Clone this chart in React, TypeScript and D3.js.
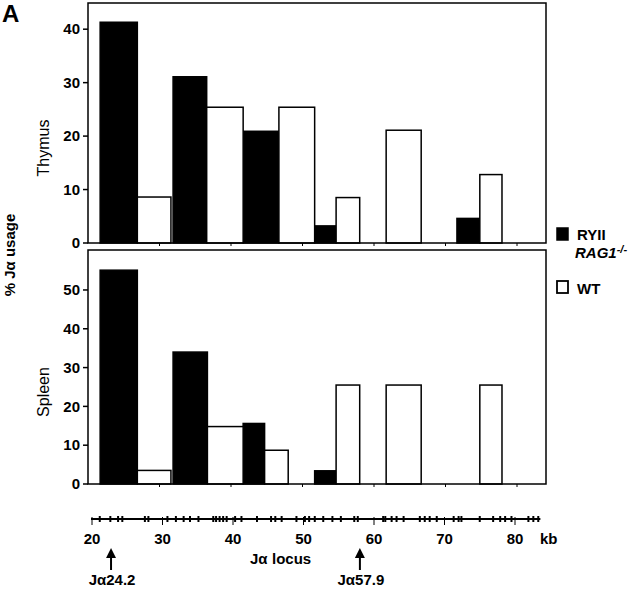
import React from "react";
import * as d3 from "d3";

// Each bar covers a stretch of the Jα locus (kb): [start, end]
const thymusRYIIkb = [[21.7, 26.9], [31.9, 36.6], [41.7, 46.7], [51.7, 54.7], [61.7, 61.7], [71.6, 74.8]];
const thymusWTkb = [[26.9, 31.6], [36.6, 41.7], [46.7, 51.7], [54.7, 58.0], [61.7, 66.6], [74.8, 77.9]];
const spleenRYIIkb = [[21.7, 26.9], [31.9, 36.7], [41.7, 44.7], [51.7, 54.7], [61.7, 61.7], [71.6, 71.6]];
const spleenWTkb = [[26.9, 31.6], [36.7, 41.7], [44.7, 48.0], [54.7, 58.0], [61.7, 66.6], [74.8, 77.9]];
const thymusRYII = [41.3, 31.1, 20.9, 3.2, 0, 4.6];
const thymusWT = [8.6, 25.4, 25.4, 8.5, 21.1, 12.8];
const spleenRYII = [55.1, 34.0, 15.6, 3.4, 0, 0];
const spleenWT = [3.5, 14.8, 8.7, 25.5, 25.5, 25.5];
const thymusTicks = [0, 10, 20, 30, 40];
const spleenTicks = [0, 10, 20, 30, 40, 50];
const locusTicks = [20, 30, 40, 50, 60, 70, 80];
const geneKb = [
  21.1, 22.6, 23.7, 24.3, 27.5, 28.0, 30.7, 31.9, 33.0, 33.9, 35.1, 37.2, 37.6, 38.1, 38.6, 39.1,
  40.3, 41.2, 43.4, 45.4, 46.0, 46.9, 49.0, 50.2, 50.8, 51.6, 52.8, 54.1, 55.3, 57.2, 57.7,
  61.3, 61.6, 62.5, 63.2, 64.2, 66.5, 67.2, 67.9, 68.9, 71.3, 72.0, 72.4, 75.0, 76.9, 77.9,
  78.6, 79.5, 81.9, 82.6, 83.3,
];
const arrowKb = [22.7, 58.0];
const arrowLabels = ["24.2", "57.9"];

const FONT = "'Liberation Sans', Arial, sans-serif";

function Panel({ top, bottom, maxY, ticks, ryii, wt, ryiiKb, wtKb, label }: any) {
  const left = 88;
  const right = 546;
  const y = d3.scaleLinear().domain([0, maxY]).range([bottom, top]);
  const xk = d3.scaleLinear().domain([20, 80]).range([88, 517]);
  const bar = (kb: number[], v: number, fill: string, key: string) =>
    kb[1] > kb[0] ? (
      <rect
        key={key}
        x={xk(kb[0])}
        y={y(v)}
        width={xk(kb[1]) - xk(kb[0])}
        height={bottom - y(v)}
        fill={fill}
        stroke="#000"
        strokeWidth={1.5}
      />
    ) : null;
  return (
    <g>
      {ryii.map((v: number, i: number) => bar(ryiiKb[i], v, "#000", "r" + i))}
      {wt.map((v: number, i: number) => bar(wtKb[i], v, "#fff", "w" + i))}
      <rect x={left} y={top} width={right - left} height={bottom - top} fill="none" stroke="#000" strokeWidth={1.5} />
      {ticks.map((t: number) => (
        <g key={t}>
          <line x1={left - 5} x2={left} y1={y(t)} y2={y(t)} stroke="#000" strokeWidth={1.5} />
          <text x={left - 8} y={y(t)} dy="0.35em" textAnchor="end" fontFamily={FONT} fontWeight="bold" fontSize={15}>
            {t}
          </text>
        </g>
      ))}
      {locusTicks.slice(1).map((t) => (
        <line key={t} x1={xk(t)} x2={xk(t)} y1={bottom} y2={bottom + 3} stroke="#000" strokeWidth={1} />
      ))}
      <text
        transform={`translate(49,${(top + bottom) / 2 + 25}) rotate(-90)`}
        textAnchor="middle"
        fontFamily={FONT}
        fontSize={16}
      >
        {label}
      </text>
    </g>
  );
}

export default function App() {
  const kx = d3.scaleLinear().domain([20, 80]).range([92, 515]);
  const axisY = 519;
  return (
    <svg width={640} height={589} style={{ position: "absolute", left: 0, top: 0, background: "#fff" }}>
      <rect width={640} height={589} fill="#fff" />
      <text x={2} y={22} fontFamily={FONT} fontWeight="bold" fontSize={24}>A</text>
      <Panel top={3} bottom={243} maxY={44.9} ticks={thymusTicks} ryii={thymusRYII} wt={thymusWT}
        ryiiKb={thymusRYIIkb} wtKb={thymusWTkb} label="Thymus" />
      <Panel top={250} bottom={484} maxY={60.3} ticks={spleenTicks} ryii={spleenRYII} wt={spleenWT}
        ryiiKb={spleenRYIIkb} wtKb={spleenWTkb} label="Spleen" />
      <text
        transform="translate(15,255) rotate(-90)"
        textAnchor="middle"
        fontFamily={FONT}
        fontWeight="bold"
        fontSize={15}
      >
        % Jα usage
      </text>
      {/* legend */}
      <rect x={557} y={228} width={11} height={12} fill="#000" stroke="#000" strokeWidth={1.5} />
      <text x={577} y={240} fontFamily={FONT} fontWeight="bold" fontSize={15}>RYII</text>
      <text x={575} y={258} fontFamily={FONT} fontWeight="bold" fontStyle="italic" fontSize={15}>
        RAG1<tspan dy={-5} fontSize={11}>-/-</tspan>
      </text>
      <rect x={557} y={281} width={11} height={12} fill="#fff" stroke="#000" strokeWidth={1.8} />
      <text x={577} y={294} fontFamily={FONT} fontWeight="bold" fontSize={15}>WT</text>
      {/* locus axis */}
      <line x1={kx(20) - 1} x2={kx(83.6)} y1={axisY} y2={axisY} stroke="#000" strokeWidth={2} />
      {geneKb.map((k, i) => (
        <line key={i} x1={kx(k)} x2={kx(k)} y1={axisY - 3} y2={axisY + 3} stroke="#000" strokeWidth={2} />
      ))}
      {locusTicks.map((t) => (
        <g key={t}>
          <line x1={kx(t)} x2={kx(t)} y1={axisY - 2} y2={axisY + 6} stroke="#000" strokeWidth={1} />
          <text x={kx(t)} y={544} textAnchor="middle" fontFamily={FONT} fontWeight="bold" fontSize={15}>
            {t}
          </text>
        </g>
      ))}
      <text x={540} y={544} fontFamily={FONT} fontWeight="bold" fontSize={15}>kb</text>
      <text x={250} y={564} fontFamily={FONT} fontWeight="bold" fontSize={15}>
        <tspan>Jα</tspan>
        <tspan x={272}>locus</tspan>
      </text>
      {arrowKb.map((k, i) => (
        <g key={i}>
          <line x1={kx(k)} x2={kx(k)} y1={556} y2={570} stroke="#000" strokeWidth={2} />
          <path d={`M${kx(k) - 5},${558} L${kx(k)},${548} L${kx(k) + 5},${558} Z`} fill="#000" />
          <text x={kx(k) + 1} y={585} textAnchor="middle" fontFamily={FONT} fontWeight="bold" fontSize={15}>
            Jα{arrowLabels[i]}
          </text>
        </g>
      ))}
    </svg>
  );
}
